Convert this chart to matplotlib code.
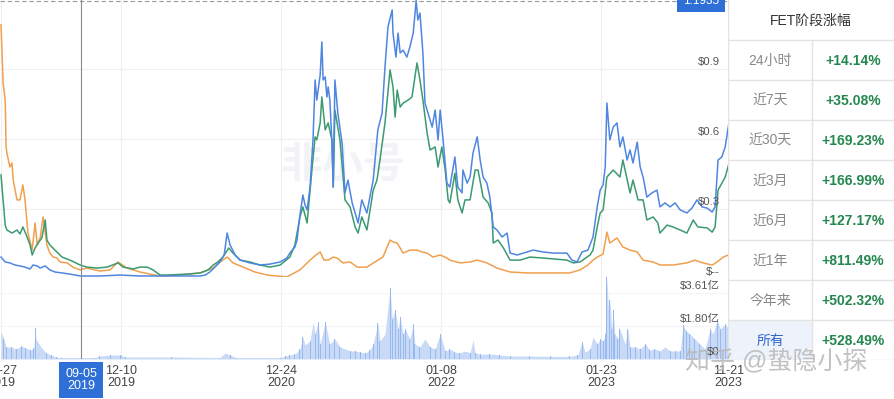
import numpy as np
import pandas as pd
import matplotlib
matplotlib.use("Agg")
import matplotlib.pyplot as plt
from matplotlib.patches import Rectangle

plt.rcParams['font.family'] = ['Liberation Sans', 'Noto Sans CJK SC', 'DejaVu Sans']

W, H = 895, 399

# 数据：距 2019-02-27 的天数 + 数值
start = pd.Timestamp("2019-02-27")

blue_day = [0, 10, 21, 33, 45, 57, 69, 76, 86, 93, 105, 116, 128, 145, 164, 188, 235, 283, 330, 378,
            425, 473, 485, 496, 508, 520, 530, 537, 544, 556, 568, 591, 615, 639, 663, 679, 686, 698,
            703, 710, 717, 722, 727, 734, 741, 746, 750, 758, 762, 765, 770, 774, 777, 781, 786, 789,
            793, 800, 810, 817, 824, 834, 841, 848, 857, 869, 876, 884, 895, 905, 912, 919, 929, 931,
            938, 943, 948, 955, 964, 971, 979, 986, 990, 995, 1002, 1007, 1014, 1024, 1031, 1038, 1043,
            1050, 1059, 1066, 1078, 1085, 1095, 1097, 1107, 1114, 1121, 1131, 1138, 1145, 1154, 1161,
            1169, 1178, 1190, 1202, 1209, 1226, 1249, 1264, 1287, 1311, 1344, 1356, 1368, 1380, 1394,
            1406, 1416, 1423, 1430, 1435, 1439, 1446, 1454, 1463, 1470, 1477, 1487, 1494, 1501, 1511,
            1518, 1525, 1534, 1546, 1558, 1565, 1577, 1589, 1601, 1613, 1629, 1641, 1653, 1665, 1677,
            1689, 1696, 1703, 1712, 1720, 1728]
blue_val = [0.094, 0.073, 0.069, 0.060, 0.056, 0.051, 0.043, 0.060, 0.056, 0.047, 0.056, 0.039, 0.030,
            0.026, 0.021, 0.013, 0.013, 0.017, 0.013, 0.013, 0.013, 0.013, 0.017, 0.030, 0.051, 0.073,
            0.103, 0.197, 0.146, 0.103, 0.081, 0.069, 0.060, 0.064, 0.073, 0.090, 0.111, 0.137, 0.167,
            0.274, 0.360, 0.317, 0.296, 0.394, 0.596, 0.853, 0.767, 0.874, 1.016, 0.853, 0.866, 0.780,
            0.823, 0.767, 0.583, 0.394, 0.853, 0.711, 0.583, 0.369, 0.424, 0.326, 0.283, 0.240, 0.339,
            0.283, 0.351, 0.424, 0.639, 0.711, 0.909, 1.080, 1.153, 1.054, 0.951, 1.054, 0.969, 0.981,
            0.951, 0.994, 1.054, 1.1935, 1.110, 1.140, 0.969, 0.754, 0.711, 0.651, 0.724, 0.596, 0.724,
            0.596, 0.411, 0.394, 0.523, 0.394, 0.369, 0.467, 0.411, 0.437, 0.540, 0.609, 0.510, 0.437,
            0.411, 0.351, 0.223, 0.210, 0.180, 0.197, 0.111, 0.103, 0.116, 0.124, 0.116, 0.111, 0.111,
            0.081, 0.073, 0.116, 0.124, 0.180, 0.309, 0.381, 0.403, 0.480, 0.754, 0.596, 0.651, 0.669,
            0.566, 0.609, 0.510, 0.553, 0.497, 0.587, 0.480, 0.437, 0.351, 0.369, 0.381, 0.309, 0.326,
            0.309, 0.326, 0.296, 0.283, 0.304, 0.339, 0.309, 0.304, 0.287, 0.309, 0.510, 0.523, 0.566,
            0.660]

green_day = [0, 5, 10, 14, 26, 38, 45, 52, 62, 69, 74, 81, 88, 97, 105, 109, 116, 128, 145, 164, 188,
             204, 228, 252, 278, 290, 314, 330, 347, 361, 378, 394, 442, 473, 492, 504, 515, 527, 541,
             551, 568, 591, 615, 639, 663, 686, 698, 710, 717, 727, 739, 746, 750, 758, 762, 770, 777,
             786, 789, 793, 805, 817, 829, 841, 848, 857, 869, 884, 893, 900, 912, 924, 931, 936, 941,
             948, 955, 967, 976, 983, 988, 995, 1002, 1012, 1019, 1031, 1038, 1047, 1055, 1062, 1066,
             1078, 1085, 1095, 1102, 1114, 1126, 1133, 1145, 1157, 1166, 1169, 1180, 1192, 1209, 1233,
             1256, 1287, 1344, 1359, 1375, 1399, 1406, 1416, 1423, 1430, 1439, 1454, 1470, 1477, 1494,
             1501, 1513, 1525, 1534, 1549, 1560, 1565, 1582, 1596, 1613, 1629, 1644, 1655, 1677, 1689,
             1696, 1703, 1712, 1720, 1728]
green_val = [0.446, 0.339, 0.231, 0.210, 0.197, 0.210, 0.193, 0.223, 0.180, 0.146, 0.103, 0.133, 0.154,
             0.176, 0.253, 0.167, 0.146, 0.124, 0.094, 0.081, 0.060, 0.051, 0.047, 0.051, 0.069, 0.051,
             0.043, 0.051, 0.051, 0.039, 0.017, 0.017, 0.021, 0.026, 0.039, 0.060, 0.073, 0.094, 0.133,
             0.111, 0.081, 0.073, 0.060, 0.051, 0.060, 0.094, 0.146, 0.266, 0.309, 0.240, 0.480, 0.609,
             0.596, 0.669, 0.780, 0.639, 0.669, 0.596, 0.394, 0.724, 0.596, 0.339, 0.309, 0.223, 0.197,
             0.266, 0.210, 0.381, 0.424, 0.510, 0.669, 0.896, 0.823, 0.694, 0.810, 0.737, 0.754, 0.767,
             0.780, 0.866, 0.926, 0.853, 0.767, 0.626, 0.553, 0.566, 0.480, 0.566, 0.467, 0.339, 0.326,
             0.454, 0.339, 0.283, 0.339, 0.339, 0.467, 0.467, 0.351, 0.326, 0.283, 0.154, 0.167, 0.137,
             0.081, 0.081, 0.094, 0.090, 0.081, 0.069, 0.073, 0.103, 0.124, 0.223, 0.283, 0.296, 0.437,
             0.467, 0.437, 0.510, 0.369, 0.424, 0.339, 0.339, 0.253, 0.266, 0.240, 0.197, 0.231, 0.223,
             0.210, 0.197, 0.253, 0.223, 0.219, 0.201, 0.223, 0.381, 0.411, 0.437, 0.489]

orange_day = [0, 5, 10, 12, 14, 21, 26, 29, 38, 45, 52, 57, 64, 74, 81, 86, 93, 100, 109, 116, 124,
              133, 140, 157, 171, 188, 204, 235, 259, 278, 299, 330, 354, 378, 425, 473, 504, 520, 537,
              551, 575, 603, 632, 679, 710, 734, 748, 758, 767, 777, 789, 798, 812, 829, 846, 869, 888,
              907, 919, 924, 931, 941, 955, 971, 988, 1000, 1012, 1026, 1043, 1059, 1066, 1090, 1114,
              1131, 1154, 1178, 1209, 1249, 1304, 1351, 1375, 1394, 1406, 1416, 1430, 1439, 1446, 1463,
              1477, 1494, 1511, 1525, 1549, 1565, 1596, 1629, 1648, 1667, 1689, 1701, 1715, 1728]
orange_val = [1.089, 0.840, 0.767, 0.566, 0.540, 0.480, 0.497, 0.424, 0.339, 0.339, 0.403, 0.339, 0.197,
              0.124, 0.240, 0.146, 0.176, 0.266, 0.146, 0.111, 0.094, 0.090, 0.073, 0.069, 0.051, 0.039,
              0.047, 0.034, 0.039, 0.073, 0.047, 0.030, 0.021, 0.013, 0.017, 0.026, 0.047, 0.073, 0.094,
              0.069, 0.051, 0.030, 0.017, 0.009, 0.039, 0.081, 0.103, 0.116, 0.081, 0.081, 0.094, 0.090,
              0.069, 0.073, 0.051, 0.051, 0.073, 0.094, 0.146, 0.167, 0.159, 0.154, 0.111, 0.124, 0.124,
              0.116, 0.111, 0.094, 0.103, 0.090, 0.081, 0.069, 0.073, 0.081, 0.069, 0.047, 0.030, 0.026,
              0.026, 0.026, 0.039, 0.060, 0.081, 0.094, 0.107, 0.201, 0.154, 0.176, 0.137, 0.124, 0.116,
              0.081, 0.073, 0.060, 0.060, 0.069, 0.081, 0.069, 0.060, 0.073, 0.094, 0.103]

# 成交额（亿美元）
vol_day = [0, 7, 12, 24, 36, 48, 59, 71, 78, 81, 83, 95, 107, 119, 131, 143, 223, 235, 259, 283, 295,
           404, 520, 532, 544, 558, 663, 675, 686, 698, 710, 717, 722, 734, 741, 746, 753, 758, 770,
           781, 793, 805, 817, 829, 841, 853, 865, 876, 884, 895, 900, 912, 924, 929, 936, 943, 948,
           955, 960, 971, 979, 983, 995, 1007, 1019, 1031, 1043, 1055, 1066, 1078, 1090, 1102, 1114,
           1121, 1126, 1138, 1161, 1185, 1209, 1256, 1304, 1351, 1370, 1380, 1387, 1399, 1406, 1416,
           1423, 1430, 1435, 1439, 1444, 1446, 1451, 1454, 1458, 1465, 1470, 1482, 1489, 1494, 1506,
           1518, 1530, 1541, 1553, 1565, 1577, 1589, 1601, 1613, 1620, 1627, 1636, 1648, 1660, 1672,
           1684, 1691, 1701, 1708, 1720, 1728]
vol_val = [1.48, 1.09, 0.66, 0.66, 0.55, 0.71, 0.60, 0.49, 0.60, 1.70, 1.09, 0.66, 0.33, 0.22, 0.11,
           0.08, 0.08, 0.16, 0.22, 0.22, 0.11, 0.11, 0.08, 0.33, 0.22, 0.08, 0.08, 0.16, 0.22, 0.27,
           0.55, 1.20, 0.77, 0.98, 2.02, 1.37, 2.02, 0.82, 2.02, 0.82, 1.09, 0.66, 0.55, 0.44, 0.44,
           0.38, 0.33, 0.49, 0.82, 1.97, 0.98, 1.37, 3.88, 2.19, 2.68, 1.64, 2.30, 1.37, 1.64, 1.09,
           1.91, 0.82, 0.66, 1.09, 0.66, 0.55, 1.37, 0.44, 0.55, 0.38, 0.33, 0.44, 0.33, 1.04, 0.33,
           0.27, 0.27, 0.22, 0.16, 0.16, 0.14, 0.14, 0.22, 0.93, 0.38, 0.55, 1.20, 0.82, 1.09, 0.98,
           1.37, 4.49, 1.91, 3.23, 1.64, 2.68, 1.37, 1.09, 1.64, 0.82, 1.64, 0.66, 0.66, 0.55, 0.82,
           0.49, 0.55, 0.44, 0.66, 0.44, 0.44, 0.44, 1.86, 1.53, 1.37, 1.09, 0.82, 0.55, 1.64, 1.37,
           2.13, 1.64, 1.91, 1.64]

tick_dates = ["2019-02-27", "2019-12-10", "2020-12-24", "2022-01-08", "2023-01-23", "2023-11-21"]
price_ticks = [0.3, 0.6, 0.9]
price_labels = ["$0.3", "$0.6", "$0.9"]
vol_ticks = [0, 1.805, 3.61]
vol_labels = ["$0", "$1.80亿", "$3.61亿"]
hover_date = "2019-09-05"

periods = ["24小时", "近7天", "近30天", "近3月", "近6月", "近1年", "今年来", "所有"]
changes = ["+14.14%", "+35.08%", "+169.23%", "+166.99%", "+127.17%", "+811.49%", "+502.32%", "+528.49%"]


def to_dates(days):
    return start + pd.to_timedelta(np.asarray(days), unit="D")


fig = plt.figure(figsize=(W / 100, H / 100), dpi=100)


def px_axes(x0, y0, x1, y1):
    return fig.add_axes([x0 / W, 1 - y1 / H, (x1 - x0) / W, (y1 - y0) / H])


ax = px_axes(0, 0, 729, 277)
axv = px_axes(0, 277, 729, 359)

xmin = start - pd.Timedelta(days=2.4)
xmax = start + pd.Timedelta(days=1729)
grid_c = "#efefef"

for a in (ax, axv):
    a.set_xlim(xmin, xmax)
    for s in a.spines.values():
        s.set_visible(False)
    a.set_xticks(pd.to_datetime(tick_dates))
    a.grid(axis="x", color=grid_c, lw=0.8)
    a.tick_params(length=0, labelleft=False)
    a.set_axisbelow(True)

ax.set_ylim(0.0086, 1.1957)
ax.set_yticks(price_ticks)
ax.grid(axis="y", color=grid_c, lw=0.8)
ax.tick_params(labelbottom=False)
ax.spines["bottom"].set_visible(True)
ax.spines["bottom"].set_color("#e4e4e4")

axv.set_ylim(0, 4.49)
axv.set_yticks(vol_ticks)
axv.grid(axis="y", color="#f5f5f5", lw=0.8)
axv.set_xticklabels([pd.Timestamp(d).strftime("%m-%d\n%Y") for d in tick_dates],
                    fontsize=9, color="#444444", linespacing=1.05)
axv.tick_params(axis="x", pad=4)

# 背景水印
ax.text(0.47, 0.4, "非小号", transform=ax.transAxes, fontsize=30, color="#f1f3f7",
        fontweight="bold", ha="center", va="center", zorder=0)

# 价格线
ax.plot(to_dates(orange_day), orange_val, color="#f0a04e", lw=1.1, zorder=3)
ax.plot(to_dates(green_day), green_val, color="#3b9a70", lw=1.1, zorder=4)
ax.plot(to_dates(blue_day), blue_val, color="#4f86e2", lw=1.1, zorder=5)

# 成交额
vd = to_dates(vol_day)
axv.fill_between(vd, vol_val, 0, color="#a4c2f1", alpha=0.6, lw=0, zorder=2)
axv.bar(vd, vol_val, width=2.2, color="#98b9ef", lw=0, zorder=3)

# y 轴标签（图内右侧）
for v, t in zip(price_ticks + [0], price_labels + ["$--"]):
    ax.annotate(t, xy=(1, v), xycoords=("axes fraction", "data"), xytext=(-6.5, 5),
                textcoords="offset points", ha="right", va="center", fontsize=8.2,
                color="#555555", zorder=6)
for v, t in zip(vol_ticks, vol_labels):
    axv.annotate(t, xy=(1, v), xycoords=("axes fraction", "data"), xytext=(-6.5, 5),
                 textcoords="offset points", ha="right", va="center", fontsize=8.2,
                 color="#555555", zorder=6)

# 最高价虚线
top = max(blue_val)
ax.axhline(top, color="#9a9a9a", lw=0.8, dashes=(4, 2.5), zorder=6, clip_on=False)
ax.annotate(f"{top:.4f}", xy=(1, top), xycoords=("axes fraction", "data"), xytext=(-20, 0),
            textcoords="offset points", ha="center", va="center", fontsize=8.5, color="white",
            bbox=dict(boxstyle="square,pad=0.5", fc="#2f6fd8", ec="none"), zorder=7,
            annotation_clip=False)

# 十字线
hd = pd.Timestamp(hover_date)
ax.axvline(hd, color="#8a8a8a", lw=0.8, zorder=6)
axv.axvline(hd, color="#8a8a8a", lw=0.8, zorder=6)
axv.annotate(hd.strftime("%m-%d\n%Y"), xy=(hd, 0), xycoords=("data", "axes fraction"),
             xytext=(0, -15), textcoords="offset points", ha="center", va="center",
             fontsize=9, color="white", linespacing=1.05,
             bbox=dict(boxstyle="square,pad=0.45", fc="#2f6fd8", ec="none"), zorder=8,
             annotation_clip=False)

# 右侧阶段涨幅表
tab = px_axes(728, 0, 895, 360)
tab.set_xlim(728, 895)
tab.set_ylim(360, 0)
tab.axis("off")
tab.add_patch(Rectangle((728, 0), 167, 360, fc="white", ec="none", zorder=0))
tab.add_patch(Rectangle((728, 320), 84, 40, fc="#eef3fb", ec="none", zorder=1))
line_c = "#e3e3e3"
for k in range(1, 10):
    tab.plot([728, 895], [40 * k, 40 * k], color=line_c, lw=1, zorder=2)
tab.plot([728.5, 728.5], [0, 360], color=line_c, lw=1, zorder=2)
tab.plot([812, 812], [40, 360], color=line_c, lw=1, zorder=2)
tab.text(811, 21, "FET阶段涨幅", ha="center", va="center", fontsize=10, color="#333333")
for i, (p, c) in enumerate(zip(periods, changes)):
    yc = 60 + 40 * i
    last = i == len(periods) - 1
    tab.text(770, yc + 1, p, ha="center", va="center", fontsize=10,
             color="#2f64c8" if last else "#888888")
    tab.text(853, yc + 1, c, ha="center", va="center", fontsize=10, color="#23874f",
             fontweight="bold")

# 知乎水印
fig.text(776 / W, 1 - 361 / H, "知乎 @蛰隐小探", ha="center", va="center", fontsize=18,
         color="#b8b8b8", alpha=0.85)

fig.savefig("out.png", dpi=100)
